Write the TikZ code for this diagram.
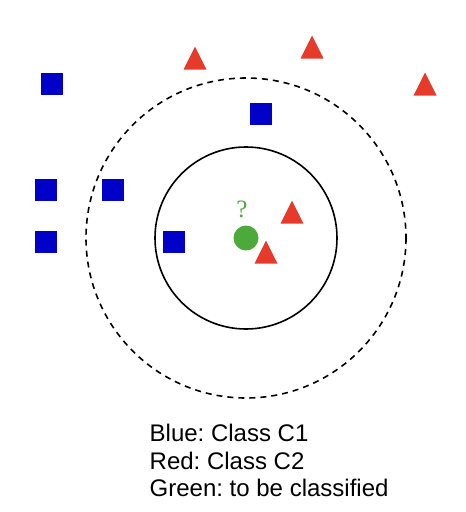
\documentclass[tikz,border=0pt]{standalone}
\usepackage{fontspec}
\setmainfont{Liberation Sans}
\newfontfamily\qfont{Liberation Serif}
\definecolor{cblue}{RGB}{0,0,200}
\definecolor{cred}{RGB}{230,58,42}
\definecolor{cgreen}{RGB}{76,170,58}
\frenchspacing
\begin{document}
\begin{tikzpicture}[x=1pt,y=-1pt,
  sq/.style={fill=cblue,draw=none,minimum size=22pt,inner sep=0pt,outer sep=0pt},
  tri/.style={fill=cred,draw=none},
  ring/.style={draw=black,line width=1.6pt,fill=none},
  legend/.style={font=\fontsize{24}{27}\selectfont,anchor=base west,inner sep=0pt}]
\path[use as bounding box] (0,0) rectangle (466,512);
% rings
\coordinate (c) at (246,238);
\draw[ring,dashed,dash pattern=on 6pt off 5pt] (c) circle[radius=160];
\draw[ring] (c) circle[radius=91];
% blue squares
\node[sq] (s1) at (52,84) {};
\node[sq] (s2) at (261,114) {};
\node[sq] (s3) at (46,190) {};
\node[sq] (s4) at (113,190) {};
\node[sq] (s5) at (46,242) {};
\node[sq] (s6) at (174,242) {};
% red triangles
\coordinate (t1) at (195,58);
\coordinate (t2) at (312,47);
\coordinate (t3) at (425,84);
\coordinate (t4) at (292,212);
\coordinate (t5) at (266,252);
\foreach \t in {t1,t2,t3,t4,t5}{
  \fill[tri] (\t) ++(0,-11.5) -- ++(11.5,23) -- ++(-23,0) -- cycle;
}
% query point
\node[circle,fill=cgreen,minimum size=25pt,inner sep=0pt] (q) at (c) {};
\node[text=cgreen,font=\qfont\fontsize{25}{25}\selectfont,inner sep=0pt] (qm) at (242,209) {?};
% legend
\node[legend] (l1) at (149.5,441.5) {Blue: Class C1};
\node[legend] (l2) at (149.5,469) {Red: Class C2};
\node[legend] (l3) at (149.5,496) {Green: to be classified};
\end{tikzpicture}
\end{document}
